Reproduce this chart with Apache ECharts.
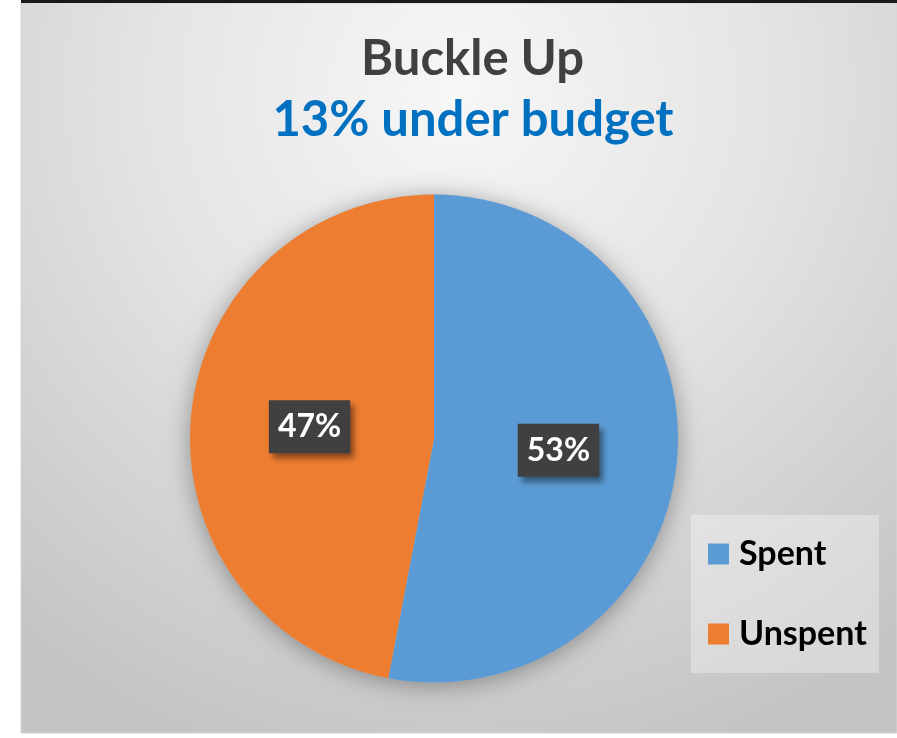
<!DOCTYPE html>
<html>
<head>
<meta charset="utf-8">
<style>
  html, body { margin: 0; padding: 0; background: #ffffff; }
  #chart { width: 897px; height: 738px; }
</style>
<script src="https://cdn.jsdelivr.net/npm/echarts@6/dist/echarts.min.js"></script>
</head>
<body>
<div id="chart"></div>
<script>
// Budget status for the "Buckle Up" campaign
const categories = ['Spent', 'Unspent'];
const shares = [53, 47];
const sliceColors = ['#5B9BD5', '#ED7D31'];
const titleText = 'Buckle Up';
const subtitleText = '13% under budget';

const chart = echarts.init(document.getElementById('chart'), null, { renderer: 'canvas' });

const pieCenter = [434, 438.5];
const pieRadius = 244;
const font = 'Lato, "Open Sans", sans-serif';

const option = {
  animation: false,
  color: sliceColors,
  graphic: [
    {
      type: 'rect', z: -10, silent: true,
      shape: { x: 21, y: 3, width: 876, height: 730 },
      style: {
        fill: {
          type: 'radial', x: 0.5, y: 0.12, r: 0.95,
          colorStops: [
            { offset: 0, color: '#f7f7f7' },
            { offset: 0.45, color: '#e4e4e4' },
            { offset: 1, color: '#c4c4c4' }
          ]
        },
        stroke: '#d6d6d6', lineWidth: 1
      }
    },
    {
      type: 'rect', z: -9, silent: true,
      shape: { x: 21, y: 0, width: 876, height: 3 },
      style: { fill: '#1a1a1a' }
    },
    {
      type: 'text', silent: true,
      x: 472.5, y: 59,
      style: {
        text: titleText, fill: '#404040',
        font: 'bold 49px ' + font,
        align: 'center', verticalAlign: 'middle'
      }
    },
    {
      type: 'text', silent: true,
      x: 473, y: 120,
      style: {
        text: subtitleText, fill: '#0070C0',
        font: 'bold 49px ' + font,
        align: 'center', verticalAlign: 'middle'
      }
    }
  ],
  legend: {
    orient: 'vertical',
    left: 691, top: 515,
    data: categories,
    selectedMode: false,
    itemWidth: 21, itemHeight: 21,
    itemGap: 44,
    icon: 'rect',
    padding: [21, 12, 21, 17],
    backgroundColor: 'rgba(255,255,255,0.32)',
    textStyle: {
      fontFamily: font, fontWeight: 'bold', fontSize: 34,
      color: '#000000', lineHeight: 36,
      padding: [0, 0, 0, 5]
    }
  },
  series: [
    {
      // soft drop shadow under the whole pie
      type: 'pie', silent: true, z: 1,
      center: pieCenter, radius: pieRadius,
      label: { show: false }, labelLine: { show: false },
      itemStyle: {
        color: '#bdbdbd',
        shadowBlur: 24, shadowColor: 'rgba(0,0,0,0.35)',
        shadowOffsetX: 0, shadowOffsetY: 3
      },
      data: [{ value: 1, name: '' }],
      legendHoverLink: false
    },
    {
      type: 'pie', z: 2,
      center: pieCenter, radius: pieRadius,
      startAngle: 90, clockwise: true,
      itemStyle: { borderWidth: 0 },
      label: {
        show: true, position: 'inside',
        formatter: '{c}%',
        fontFamily: font, fontWeight: 'bold', fontSize: 32,
        color: '#ffffff', lineHeight: 35,
        backgroundColor: '#404040',
        padding: [9, 9, 9, 9],
        shadowColor: 'rgba(0,0,0,0.45)',
        shadowBlur: 6, shadowOffsetX: 4, shadowOffsetY: 5
      },
      labelLine: { show: false },
      emphasis: { disabled: true },
      data: categories.map((name, i) => ({ name: name, value: shares[i] }))
    }
  ]
};

chart.setOption(option);
</script>
</body>
</html>
